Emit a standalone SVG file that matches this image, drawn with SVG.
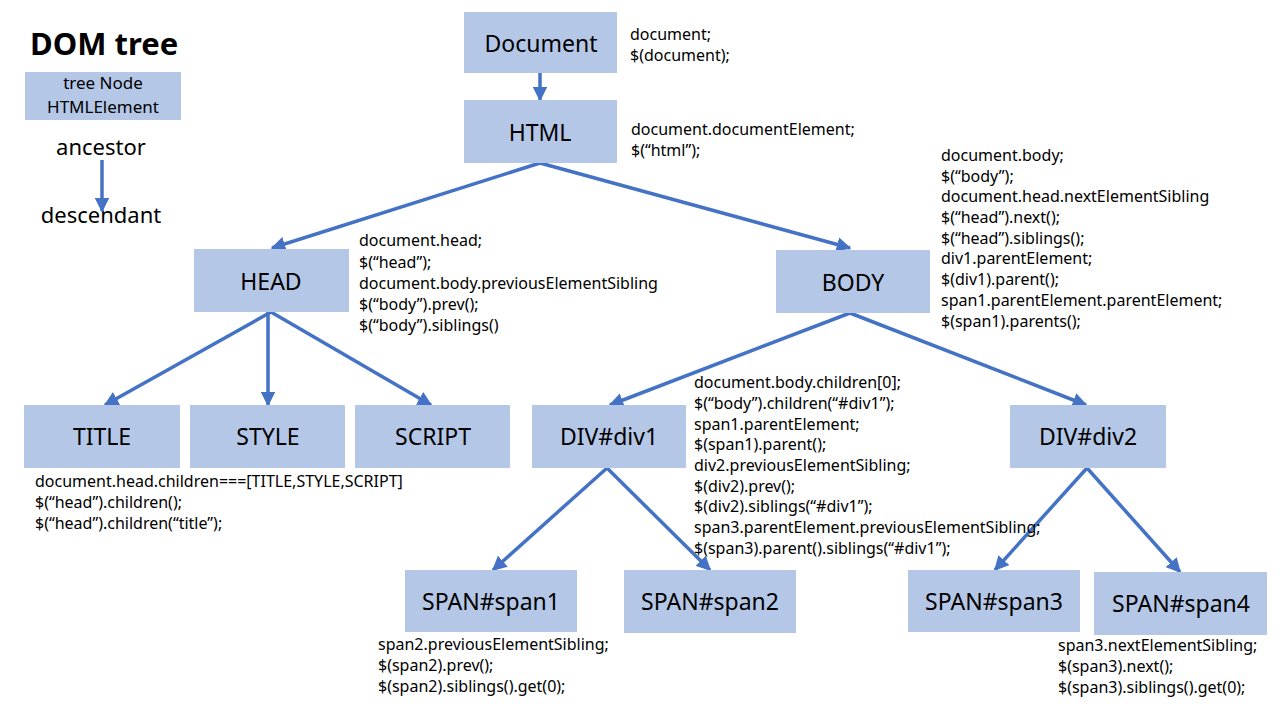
<svg xmlns="http://www.w3.org/2000/svg" width="1280" height="720" viewBox="0 0 1280 720">
<style>
.box{fill:#B4C7E7;}
.lbl{font-family:"Noto Sans","Open Sans",sans-serif;font-size:23px;fill:#000;text-anchor:middle;}
.code{font-family:"Noto Sans","Open Sans",sans-serif;font-size:16px;fill:#000;}
.edge{stroke:#4472C4;stroke-width:3.5;fill:none;marker-end:url(#ah);}
</style>
<defs>
<marker id="ah" viewBox="0 0 10 10" refX="9" refY="5" markerWidth="4.2" markerHeight="4.2" orient="auto" markerUnits="strokeWidth">
<path d="M0,0 L10,5 L0,10 z" fill="#4472C4"/>
</marker>
</defs>
<rect width="1280" height="720" fill="#fff"/>
<g id="legend">
<text x="30" y="55" font-family="Noto Sans, sans-serif" font-weight="bold" font-size="31">DOM tree</text>
<rect class="box" x="25" y="72" width="156" height="48"/>
<text class="lbl" x="103" y="89" style="font-size:17px">tree Node</text>
<text class="lbl" x="103" y="113" style="font-size:17px">HTMLElement</text>
<text class="lbl" x="101" y="155" style="font-size:22px">ancestor</text>
<text class="lbl" x="101" y="223" style="font-size:22px">descendant</text>
<line class="edge" x1="102" y1="160" x2="102" y2="211"/>
</g>
<g id="connectors">
<line class="edge" x1="540" y1="73" x2="540" y2="100"/>
<line class="edge" x1="540" y1="163" x2="272" y2="248"/>
<line class="edge" x1="540" y1="163" x2="850" y2="248"/>
<line class="edge" x1="271" y1="312" x2="105" y2="405"/>
<line class="edge" x1="268" y1="312" x2="268" y2="405"/>
<line class="edge" x1="271" y1="312" x2="431" y2="405"/>
<line class="edge" x1="850" y1="313" x2="610" y2="405"/>
<line class="edge" x1="850" y1="313" x2="1086" y2="405"/>
<line class="edge" x1="607" y1="468" x2="493" y2="570"/>
<line class="edge" x1="607" y1="468" x2="710" y2="570"/>
<line class="edge" x1="1087" y1="468" x2="995" y2="570"/>
<line class="edge" x1="1087" y1="468" x2="1180" y2="572"/>
</g>
<g id="document">
<rect class="box" x="464" y="12" width="153" height="61"/>
<text class="lbl" x="541" y="52">Document</text>
<text class="code" x="630" y="40">document;</text>
<text class="code" x="630" y="61">$(document);</text>
</g>
<g id="html">
<rect class="box" x="464" y="100" width="153" height="63"/>
<text class="lbl" x="540" y="141">HTML</text>
<text class="code" x="631" y="135">document.documentElement;</text>
<text class="code" x="631" y="156">$(“html”);</text>
</g>
<g id="head">
<rect class="box" x="194" y="249" width="155" height="63"/>
<text class="lbl" x="271" y="290">HEAD</text>
<text class="code" x="359" y="246">document.head;</text>
<text class="code" x="359" y="268">$(“head”);</text>
<text class="code" x="359" y="289">document.body.previousElementSibling</text>
<text class="code" x="359" y="310">$(“body”).prev();</text>
<text class="code" x="359" y="331">$(“body”).siblings()</text>
</g>
<g id="body">
<rect class="box" x="776" y="250" width="154" height="63"/>
<text class="lbl" x="853" y="291">BODY</text>
<text class="code" x="941" y="161">document.body;</text>
<text class="code" x="941" y="182">$(“body”);</text>
<text class="code" x="941" y="202">document.head.nextElementSibling</text>
<text class="code" x="941" y="223">$(“head”).next();</text>
<text class="code" x="941" y="244">$(“head”).siblings();</text>
<text class="code" x="941" y="264">div1.parentElement;</text>
<text class="code" x="941" y="285">$(div1).parent();</text>
<text class="code" x="941" y="306">span1.parentElement.parentElement;</text>
<text class="code" x="941" y="327">$(span1).parents();</text>
</g>
<g id="title">
<rect class="box" x="24" y="405" width="156" height="63"/>
<text class="lbl" x="102" y="445">TITLE</text>
<text class="code" x="35" y="487">document.head.children===[TITLE,STYLE,SCRIPT]</text>
<text class="code" x="35" y="508">$(“head”).children();</text>
<text class="code" x="35" y="529">$(“head”).children(“title”);</text>
</g>
<g id="style">
<rect class="box" x="190" y="405" width="155" height="63"/>
<text class="lbl" x="268" y="445">STYLE</text>
</g>
<g id="script">
<rect class="box" x="355" y="405" width="155" height="63"/>
<text class="lbl" x="433" y="445">SCRIPT</text>
</g>
<g id="div1">
<rect class="box" x="532" y="405" width="154" height="63"/>
<text class="lbl" x="609" y="445">DIV#div1</text>
<text class="code" x="694" y="388">document.body.children[0];</text>
<text class="code" x="694" y="409">$(“body”).children(“#div1”);</text>
<text class="code" x="694" y="430">span1.parentElement;</text>
<text class="code" x="694" y="450">$(span1).parent();</text>
<text class="code" x="694" y="471">div2.previousElementSibling;</text>
<text class="code" x="694" y="492">$(div2).prev();</text>
<text class="code" x="694" y="512">$(div2).siblings(“#div1”);</text>
<text class="code" x="694" y="533">span3.parentElement.previousElementSibling;</text>
<text class="code" x="694" y="554">$(span3).parent().siblings(“#div1”);</text>
</g>
<g id="div2">
<rect class="box" x="1010" y="405" width="156" height="63"/>
<text class="lbl" x="1088" y="445">DIV#div2</text>
</g>
<g id="span1">
<rect class="box" x="405" y="570" width="172" height="62"/>
<text class="lbl" x="491" y="610">SPAN#span1</text>
<text class="code" x="378" y="650">span2.previousElementSibling;</text>
<text class="code" x="378" y="671">$(span2).prev();</text>
<text class="code" x="378" y="692">$(span2).siblings().get(0);</text>
</g>
<g id="span2">
<rect class="box" x="624" y="570" width="172" height="63"/>
<text class="lbl" x="710" y="610">SPAN#span2</text>
</g>
<g id="span3">
<rect class="box" x="908" y="570" width="172" height="62"/>
<text class="lbl" x="994" y="610">SPAN#span3</text>
</g>
<g id="span4">
<rect class="box" x="1094" y="572" width="173" height="63"/>
<text class="lbl" x="1181" y="612">SPAN#span4</text>
<text class="code" x="1058" y="651">span3.nextElementSibling;</text>
<text class="code" x="1058" y="672">$(span3).next();</text>
<text class="code" x="1058" y="693">$(span3).siblings().get(0);</text>
</g>
</svg>
